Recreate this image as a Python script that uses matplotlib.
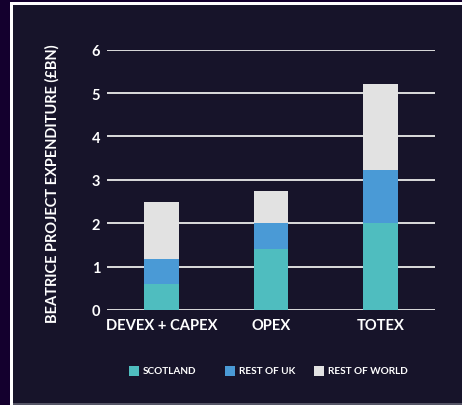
import matplotlib
matplotlib.use("Agg")
import matplotlib.pyplot as plt
from matplotlib.patches import Rectangle
import numpy as np

categories = ["DEVEX + CAPEX", "OPEX", "TOTEX"]
scotland = [0.6, 1.4, 2.0]
rest_of_uk = [0.57, 0.6, 1.22]
rest_of_world = [1.33, 0.74, 2.0]
series_names = ["SCOTLAND", "REST OF UK", "REST OF WORLD"]
colors = ["#4fbdbf", "#4a9ad6", "#e2e2e2"]
yticks = [0, 1, 2, 3, 4, 5, 6]

W, H = 462, 406
fig = plt.figure(figsize=(W / 100, H / 100), dpi=100)
fig.patch.set_facecolor("#14002e")

def fx(px):
    return px / W

def fy(py):
    return 1 - py / H

# white frame and inner panel
fig.patches.append(Rectangle((fx(10), fy(406)), fx(462) - fx(10), fy(3) - fy(406),
                             transform=fig.transFigure, facecolor="#ffffff", edgecolor="none", zorder=-3))
fig.patches.append(Rectangle((fx(13), fy(406)), fx(462) - fx(13), fy(6) - fy(406),
                             transform=fig.transFigure, facecolor="#17142a", edgecolor="none", zorder=-2))
fig.patches.append(Rectangle((fx(13), fy(406)), fx(462) - fx(13), fy(404) - fy(406),
                             transform=fig.transFigure, facecolor="#555566", edgecolor="none", zorder=-1))

font = "Lato"
ax = fig.add_axes([fx(107), fy(311), fx(435) - fx(107), fy(50.7) - fy(311)])
ax.set_zorder(5)
ax.set_facecolor("none")
ax.set_xlim(-0.5, 2.5)
ax.set_ylim(0, 6)
for s in ax.spines.values():
    s.set_visible(False)

for t in yticks:
    ax.axhline(t, color="#dcdcdc", lw=1.4, zorder=1)

x = np.arange(len(categories))
bottom = np.zeros(len(categories))
for vals, c, name in zip([scotland, rest_of_uk, rest_of_world], colors, series_names):
    ax.bar(x, vals, width=0.32, bottom=bottom, color=c, zorder=2, label=name)
    bottom += np.array(vals)

ax.set_yticks(yticks)
ax.set_yticklabels([str(t) for t in yticks], family=font, fontweight="bold", fontsize=10.5, color="#ffffff")
ax.set_xticks(x)
ax.set_xticklabels(categories, family=font, fontweight="bold", fontsize=10.6, color="#ffffff")
ax.tick_params(axis="both", length=0)
ax.tick_params(axis="y", pad=5)
ax.tick_params(axis="x", pad=6)

fig.text(fx(52), fy(184), "BEATRICE PROJECT EXPENDITURE (£BN)", rotation=90, ha="center", va="center",
         family=font, fontweight="bold", fontsize=10.5, color="#ffffff")

# legend
leg_sq = [129, 225, 314]
for px, c, name in zip(leg_sq, colors, series_names):
    fig.patches.append(Rectangle((fx(px), fy(377)), fx(10), fy(367) - fy(377),
                                 transform=fig.transFigure, facecolor=c, edgecolor="none", zorder=1))
    fig.text(fx(px + 14), fy(372), name, ha="left", va="center", family=font,
             fontweight="bold", fontsize=7.2, color="#ffffff")

fig.savefig("out.png", dpi=100, facecolor=fig.get_facecolor())
